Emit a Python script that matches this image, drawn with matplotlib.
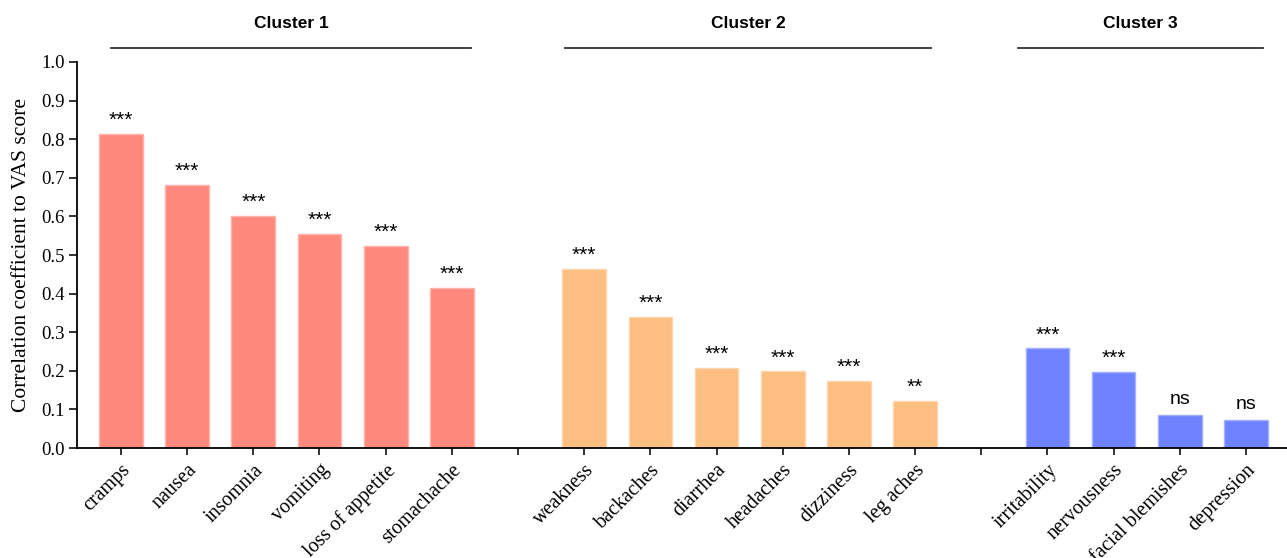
import numpy as np
import matplotlib
matplotlib.use("Agg")
import matplotlib.pyplot as plt
import matplotlib.transforms as mtransforms

# data
c1_labels = ["cramps", "nausea", "insomnia", "vomiting", "loss of appetite", "stomachache"]
c1_values = [0.813, 0.681, 0.602, 0.554, 0.523, 0.415]
c1_sig = ["***", "***", "***", "***", "***", "***"]

c2_labels = ["weakness", "backaches", "diarrhea", "headaches", "dizziness", "leg aches"]
c2_values = [0.464, 0.340, 0.208, 0.199, 0.174, 0.122]
c2_sig = ["***", "***", "***", "***", "***", "**"]

c3_labels = ["irritability", "nervousness", "facial blemishes", "depression"]
c3_values = [0.258, 0.197, 0.086, 0.072]
c3_sig = ["***", "***", "ns", "ns"]

cluster_names = ["Cluster 1", "Cluster 2", "Cluster 3"]
colors = ["#FF897D", "#FDBE82", "#6F82FF"]
edge_colors = ["#FFB3AC", "#FFD7AE", "#A3B0FF"]
# how far the header line sticks out past the first / last bar centre
line_left = [0.15, 0.29, 0.44]
line_right = [0.29, 0.24, 0.25]

plt.rcParams['font.family'] = ['Liberation Serif', 'DejaVu Serif']

fig = plt.figure(figsize=(12.87, 5.58), dpi=100)
ax = fig.add_axes([0.0598, 0.197, 0.9402, 0.692])

groups = [(c1_labels, c1_values, c1_sig), (c2_labels, c2_values, c2_sig), (c3_labels, c3_values, c3_sig)]
trans = mtransforms.blended_transform_factory(ax.transData, fig.transFigure)
all_pos = []
all_labels = []
start = 0
for i, (labs, vals, sig) in enumerate(groups):
    pos = np.arange(start, start + len(vals))
    ax.bar(pos, vals, width=0.66, color=colors[i], edgecolor=edge_colors[i], linewidth=1)
    for p, v, s in zip(pos, vals, sig):
        if s == "ns":
            ax.text(p, v + 0.018, s, ha="center", va="bottom", fontsize=14,
                    family=["Liberation Sans"])
        else:
            ax.text(p, v + 0.010, s, ha="center", va="bottom", fontsize=15,
                    family=["Liberation Sans"])
    # cluster header line + label
    x0, x1 = pos[0] - line_left[i], pos[-1] + line_right[i]
    ax.plot([x0, x1], [0.914, 0.914], transform=trans, color="#333333", lw=1.3, clip_on=False)
    ax.text((x0 + x1) / 2, 0.958, cluster_names[i], transform=trans, ha="center", va="center",
            fontsize=12.5, fontweight="bold", family=["Liberation Sans"])
    all_pos += list(pos)
    all_labels += labs
    if i < 2:
        all_pos.append(start + len(vals))
        all_labels.append("")
    start += len(vals) + 1

ax.set_xlim(-0.665, 17.62)
ax.set_ylim(0, 1.0)
ax.set_yticks(np.arange(0, 1.01, 0.1))
ax.set_yticklabels([f"{t:.1f}" for t in np.arange(0, 1.01, 0.1)], fontsize=13.5)
ax.set_xticks(all_pos)
ax.set_xticklabels(all_labels, rotation=45, ha="right", rotation_mode="anchor", fontsize=14.5)
ax.set_ylabel("Correlation coefficient to VAS score", fontsize=15.5, labelpad=7)

ax.spines["top"].set_visible(False)
ax.spines["right"].set_visible(False)
ax.spines["left"].set_linewidth(1.3)
ax.spines["bottom"].set_linewidth(1.3)
ax.tick_params(axis="both", direction="out", length=5, width=1.3, colors="#222222", labelcolor="black")
ax.tick_params(axis="y", length=6, pad=3)
ax.tick_params(axis="x", pad=4)

fig.savefig("out.png", dpi=100)
